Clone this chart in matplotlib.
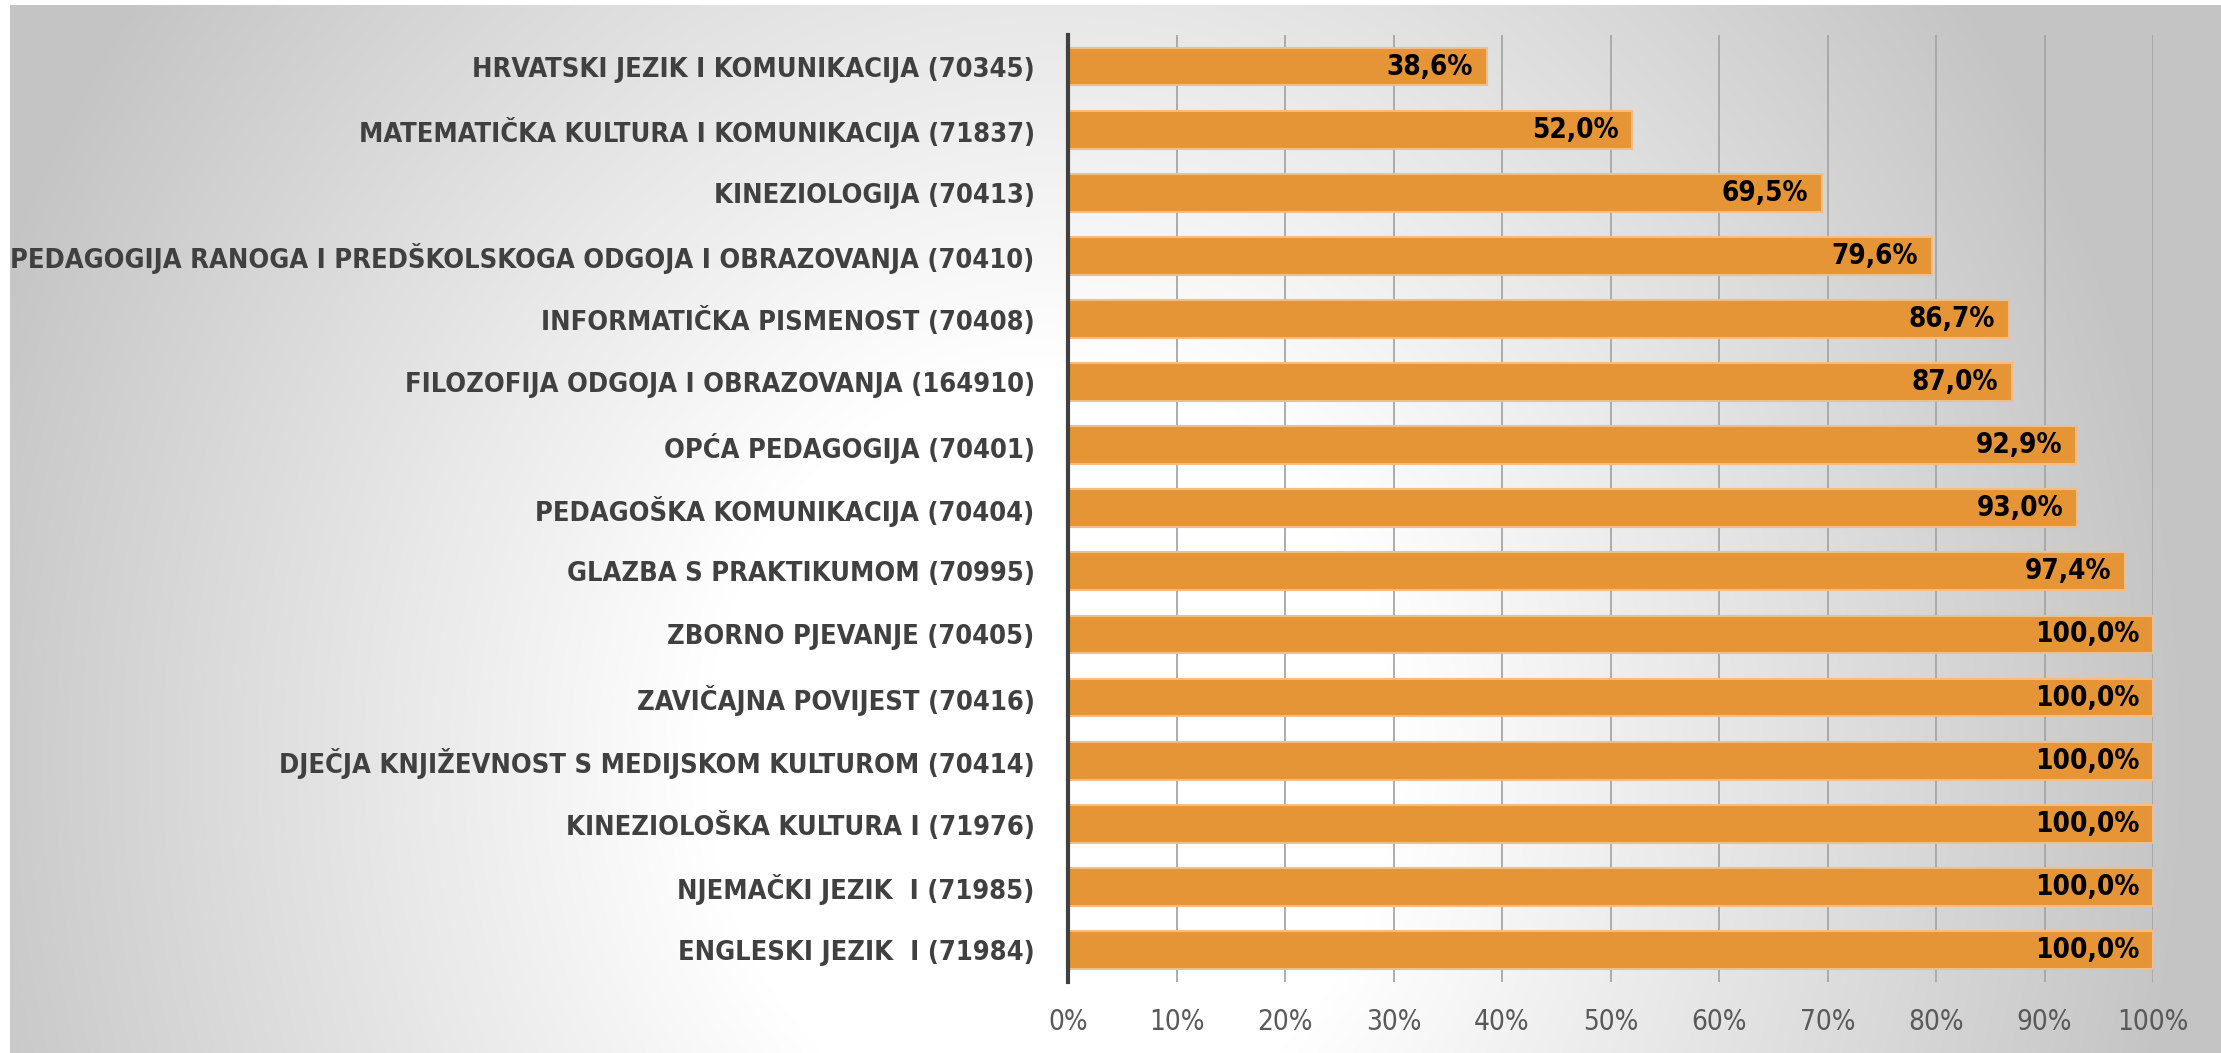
import matplotlib
matplotlib.use('Agg')
import matplotlib.pyplot as plt
import numpy as np
from matplotlib.colors import LinearSegmentedColormap

# data, listed top to bottom as in the chart
courses = [
    'HRVATSKI JEZIK I KOMUNIKACIJA (70345)',
    'MATEMATIČKA KULTURA I KOMUNIKACIJA (71837)',
    'KINEZIOLOGIJA (70413)',
    'PEDAGOGIJA RANOGA I PREDŠKOLSKOGA ODGOJA I OBRAZOVANJA (70410)',
    'INFORMATIČKA PISMENOST (70408)',
    'FILOZOFIJA ODGOJA I OBRAZOVANJA (164910)',
    'OPĆA PEDAGOGIJA (70401)',
    'PEDAGOŠKA KOMUNIKACIJA (70404)',
    'GLAZBA S PRAKTIKUMOM (70995)',
    'ZBORNO PJEVANJE (70405)',
    'ZAVIČAJNA POVIJEST (70416)',
    'DJEČJA KNJIŽEVNOST S MEDIJSKOM KULTUROM (70414)',
    'KINEZIOLOŠKA KULTURA I (71976)',
    'NJEMAČKI JEZIK  I (71985)',
    'ENGLESKI JEZIK  I (71984)',
]
pass_rate = [38.6, 52.0, 69.5, 79.6, 86.7, 87.0, 92.9, 93.0, 97.4,
             100.0, 100.0, 100.0, 100.0, 100.0, 100.0]
x_ticks = [0, 10, 20, 30, 40, 50, 60, 70, 80, 90, 100]

BAR_COLOR = '#E69536'

W, H = 2221, 1053
fig = plt.figure(figsize=(W / 100, H / 100), dpi=100)
fig.patch.set_facecolor('white')

# radial grey-to-white background of the chart area
bg = fig.add_axes([10 / W, 0, 1 - 10 / W, 1 - 5 / H], zorder=0)
gx, gy = np.meshgrid(np.linspace(10, W, 400), np.linspace(5, H, 200))
r = np.sqrt(((gx - 1050) / 1150) ** 2 + ((gy - 760) / 1300) ** 2)
r = np.clip(r, 0, 1)
cmap = LinearSegmentedColormap.from_list(
    'bg', [(0, '#ffffff'), (0.3, '#ffffff'), (1, '#c4c4c4')])
bg.imshow(r, cmap=cmap, aspect='auto', extent=[0, 1, 0, 1], vmin=0, vmax=1,
          interpolation='bilinear')
bg.axis('off')

ax = fig.add_axes([1068 / W, 1 - 981.5 / H, (2153 - 1068) / W, (981.5 - 35) / H], zorder=1)
ax.patch.set_alpha(0)

y = np.arange(len(courses))
ax.barh(y, pass_rate, height=0.6, color=BAR_COLOR, edgecolor='#F3BE86',
        linewidth=1.5, zorder=3)

for yi, v in zip(y, pass_rate):
    label = f'{v:.1f}'.replace('.', ',') + '%'
    ax.annotate(label, xy=(v, yi), xytext=(-10, 0), textcoords='offset points',
                ha='right', va='center', fontsize=20, fontweight='bold',
                fontstretch='condensed', color='black', zorder=4)

ax.set_xlim(0, 100)
ax.set_ylim(len(courses) - 0.5, -0.5)
ax.set_yticks(y)
ax.set_yticklabels(courses, fontsize=19.5, fontweight='bold', fontstretch='condensed',
                   color='#404040')
ax.set_xticks(x_ticks)
ax.set_xticklabels([f'{t}%' for t in x_ticks], fontsize=20, fontstretch='condensed',
                   color='#595959')
ax.tick_params(axis='y', length=0, pad=24)
ax.tick_params(axis='x', length=0, pad=19)

ax.grid(axis='x', color='#a6a6a6', linewidth=1.3, zorder=1)
ax.set_axisbelow(True)
for side in ['top', 'right', 'bottom']:
    ax.spines[side].set_visible(False)
ax.spines['left'].set_color('#404040')
ax.spines['left'].set_linewidth(3)
ax.spines['left'].set_zorder(5)

fig.savefig('out.png', dpi=100)
